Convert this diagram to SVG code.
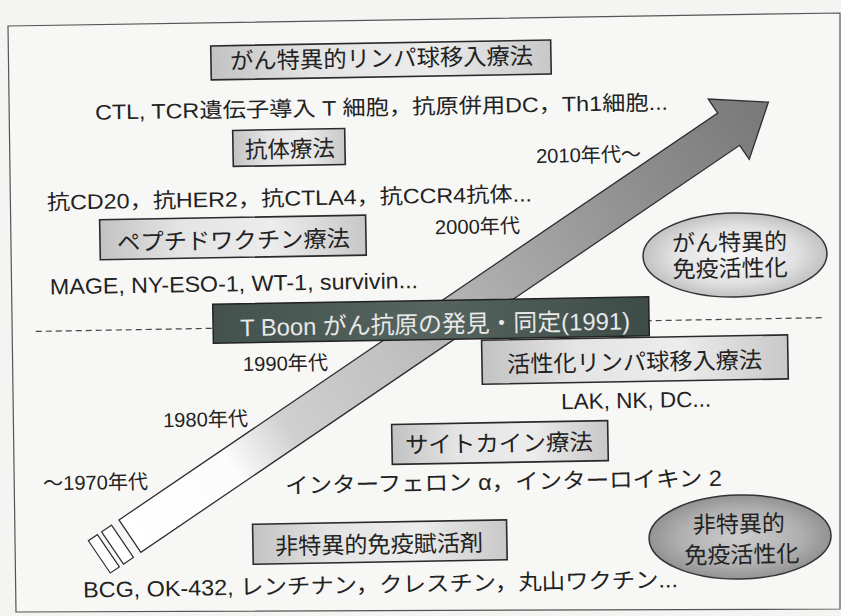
<svg xmlns="http://www.w3.org/2000/svg" width="841" height="616" viewBox="0 0 841 616">
<defs>
<linearGradient id="boxg" x1="0" y1="0" x2="1" y2="0">
<stop offset="0" stop-color="#c2c2c2"/><stop offset="0.3" stop-color="#e4e4e4"/><stop offset="0.65" stop-color="#ececec"/><stop offset="1" stop-color="#c8c8c8"/>
</linearGradient>
<linearGradient id="darkg" x1="0" y1="0" x2="1" y2="0">
<stop offset="0" stop-color="#44524e"/><stop offset="0.5" stop-color="#56645f"/><stop offset="1" stop-color="#3e4c48"/>
</linearGradient>
<linearGradient id="arrg" gradientUnits="userSpaceOnUse" x1="0" y1="0" x2="772" y2="0">
<stop offset="0" stop-color="#ffffff"/><stop offset="0.16" stop-color="#fcfcfc"/><stop offset="0.25" stop-color="#cfcfcf"/><stop offset="0.42" stop-color="#c0c0c0"/><stop offset="0.62" stop-color="#a6a6a6"/><stop offset="0.82" stop-color="#8c8c8c"/><stop offset="1" stop-color="#787878"/>
</linearGradient>
<radialGradient id="ell1" cx="0.5" cy="0.5" r="0.55">
<stop offset="0" stop-color="#f6f6f6"/><stop offset="0.6" stop-color="#e2e2e2"/><stop offset="1" stop-color="#b8b8b8"/>
</radialGradient>
<radialGradient id="ell2" cx="0.5" cy="0.5" r="0.55">
<stop offset="0" stop-color="#cdcdcd"/><stop offset="0.6" stop-color="#b0b0b0"/><stop offset="1" stop-color="#8a8a8a"/>
</radialGradient>
</defs>
<style>
.bx{fill:url(#boxg);stroke:#2a2a2a;stroke-width:1.6}
.t{font-family:"Liberation Sans","Noto Sans CJK JP",sans-serif;fill:#222;text-anchor:middle}
.h{font-size:23px}
.s{font-size:21px}
.y{font-size:20px}
.e{font-size:22px}
.ln{fill:none;stroke:#333;stroke-width:1.3}
</style>
<rect width="841" height="616" fill="#f4f4f2"/>
<path d="M8,26 L840,13 L840,609 L16,612 Z" fill="#f7f7f5" stroke="#555" stroke-width="1.2"/>
<g transform="rotate(-1 420 308)">
<g id="connectors">
<line x1="35.4" y1="324.7" x2="823.2" y2="324.7" stroke="#444" stroke-width="1.2" stroke-dasharray="6,4"/>
<g id="arrow" transform="translate(115.3,514.7) rotate(-33.2)">
<path d="M0,0 H724 V-17 L772,19.5 L724,56 V39 H0 Z" fill="url(#arrg)" stroke="#2e2e2e" stroke-width="1.3"/>
<rect x="-21" y="0" width="12" height="39" fill="#fff" stroke="#2e2e2e" stroke-width="1.2"/>
<rect x="-37" y="0" width="11" height="39" fill="#fff" stroke="#2e2e2e" stroke-width="1.2"/>
</g>
</g>
<g id="node-gan-lymph">
<rect class="bx" x="215.3" y="42.3" width="340" height="34"/>
<text class="t h" x="385.9" y="66" textLength="303" lengthAdjust="spacingAndGlyphs">がん特異的リンパ球移入療法</text>
</g>
<text class="t s" x="385" y="114" textLength="573" lengthAdjust="spacingAndGlyphs">CTL, TCR遺伝子導入 T 細胞，抗原併用DC，Th1細胞...</text>
<g id="node-antibody">
<rect class="bx" x="235.8" y="127.2" width="112" height="36"/>
<text class="t h" x="292.7" y="155" textLength="90" lengthAdjust="spacingAndGlyphs">抗体療法</text>
</g>
<text class="t s" x="291.4" y="203.3" textLength="485" lengthAdjust="spacingAndGlyphs">抗CD20，抗HER2，抗CTLA4，抗CCR4抗体...</text>
<g id="node-peptide">
<rect class="bx" x="101.2" y="214.2" width="266" height="40"/>
<text class="t h" x="234.7" y="245.4" textLength="233" lengthAdjust="spacingAndGlyphs">ペプチドワクチン療法</text>
</g>
<text class="t e" x="234.4" y="288" textLength="368" lengthAdjust="spacingAndGlyphs">MAGE, NY-ESO-1, WT-1, survivin...</text>
<g id="node-tboon">
<rect x="212.8" y="300.7" width="436" height="39" fill="url(#darkg)" stroke="#222" stroke-width="1.5"/>
<text class="t" x="434.7" y="333" font-size="24" fill="#e8e8e8" style="fill:#e8e8e8" textLength="390" lengthAdjust="spacingAndGlyphs">T Boon がん抗原の発見・同定(1991)</text>
</g>
<g id="node-activated">
<rect class="bx" x="481" y="341.3" width="306" height="44"/>
<text class="t h" x="633.6" y="374" textLength="255" lengthAdjust="spacingAndGlyphs">活性化リンパ球移入療法</text>
</g>
<text class="t e" x="634.4" y="411.7" textLength="150" lengthAdjust="spacingAndGlyphs">LAK, NK, DC...</text>
<g id="node-cytokine">
<rect class="bx" x="389.6" y="423.9" width="216" height="40"/>
<text class="t h" x="496.6" y="453" textLength="188" lengthAdjust="spacingAndGlyphs">サイトカイン療法</text>
</g>
<text class="t e" x="500.5" y="491" textLength="437" lengthAdjust="spacingAndGlyphs">インターフェロン α，インターロイキン 2</text>
<g id="node-nonspecific">
<rect class="bx" x="248.8" y="521.3" width="254" height="40"/>
<text class="t h" x="374.9" y="552" textLength="208" lengthAdjust="spacingAndGlyphs">非特異的免疫賦活剤</text>
</g>
<text class="t e" x="375.7" y="591.7" textLength="595" lengthAdjust="spacingAndGlyphs">BCG, OK-432, レンチナン，クレスチン，丸山ワクチン...</text>
<g id="years">
<text class="t y" x="591.2" y="165" textLength="105" lengthAdjust="spacingAndGlyphs">2010年代～</text>
<text class="t y" x="478.9" y="234.5" textLength="85" lengthAdjust="spacingAndGlyphs">2000年代</text>
<text class="t y" x="284.5" y="368" textLength="85" lengthAdjust="spacingAndGlyphs">1990年代</text>
<text class="t y" x="203.6" y="422.7" textLength="85" lengthAdjust="spacingAndGlyphs">1980年代</text>
<text class="t y" x="92.5" y="483.8" textLength="105" lengthAdjust="spacingAndGlyphs">～1970年代</text>
</g>
<g id="node-specific-activation">
<ellipse cx="735.9" cy="260.5" rx="92" ry="42" fill="url(#ell1)" stroke="#333" stroke-width="1.5"/>
<text class="t h" x="730.7" y="256">がん特異的</text>
<text class="t h" x="730.7" y="282">免疫活性化</text>
</g>
<g id="node-nonspecific-activation">
<ellipse cx="736" cy="542.6" rx="91" ry="42" fill="url(#ell2)" stroke="#333" stroke-width="1.5"/>
<text class="t h" x="735" y="537.8">非特異的</text>
<text class="t h" x="737.5" y="568.3">免疫活性化</text>
</g>
</g>
</svg>
